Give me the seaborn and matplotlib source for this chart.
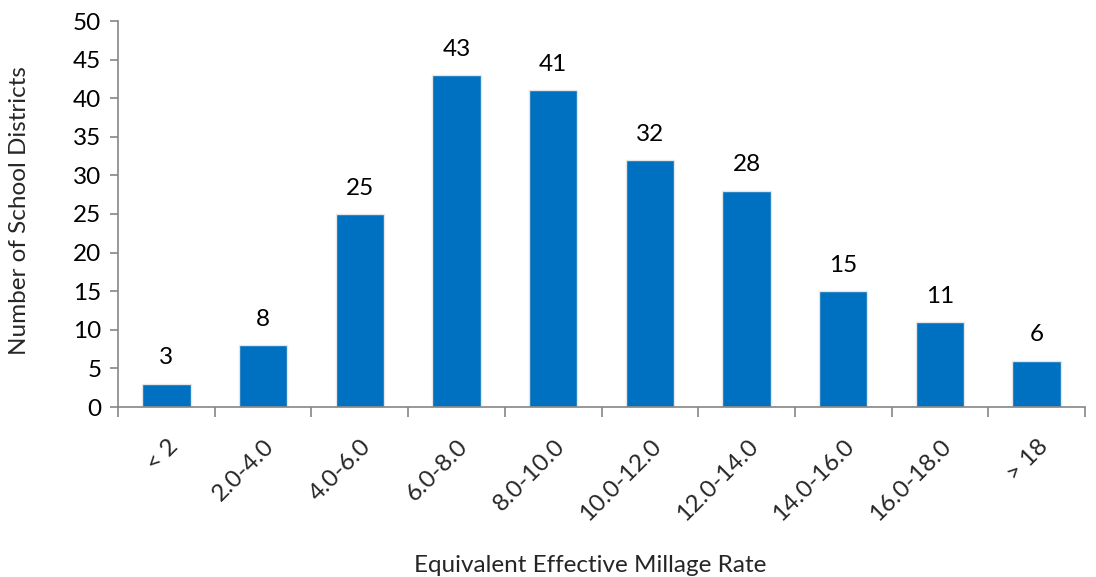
import matplotlib
matplotlib.use("Agg")
import matplotlib.pyplot as plt
import matplotlib.transforms as mtrans
import seaborn as sns
import pandas as pd
import numpy as np

categories = ["< 2", "2.0-4.0", "4.0-6.0", "6.0-8.0", "8.0-10.0", "10.0-12.0",
              "12.0-14.0", "14.0-16.0", "16.0-18.0", "> 18"]
counts = [3, 8, 25, 43, 41, 32, 28, 15, 11, 6]
y_ticks = [0, 5, 10, 15, 20, 25, 30, 35, 40, 45, 50]

sns.set_theme(style="white")
plt.rcParams['font.family'] = ['Lato', 'DejaVu Sans']

FS = 17.5
W, H = 1096, 577
df = pd.DataFrame({"cat": categories, "n": counts})

fig = plt.figure(figsize=(W/100, H/100), dpi=100)
ax = fig.add_axes([118/W, 1-407/H, (1085-118)/W, (407-21)/H])
sns.barplot(data=df, x="cat", y="n", color="#0070C0", saturation=1, width=0.5,
            edgecolor="#e6e6e6", linewidth=1.0, ax=ax)

for i, v in enumerate(counts):
    ax.text(i, v + 2.0, str(v), ha="center", va="bottom", fontsize=FS, color="black")

ax.set_xlim(-0.5, len(categories) - 0.5)
ax.set_ylim(0, 50)
ax.set_yticks(y_ticks)
ax.tick_params(axis="y", labelsize=FS, colors="#868686", labelcolor="black",
               length=6, width=1.2, left=True, direction="out", pad=6)
ax.set_xticks(range(len(categories)))
ax.set_xticklabels(categories, rotation=45, ha="right", va="center",
                   rotation_mode="anchor", fontsize=FS)
ax.tick_params(axis="x", which="major", length=0, pad=26)
offset = mtrans.ScaledTranslation(8/100, 0, fig.dpi_scale_trans)
for lbl in ax.get_xticklabels():
    lbl.set_transform(lbl.get_transform() + offset)
ax.set_xticks(np.arange(-0.5, len(categories)), minor=True)
ax.tick_params(axis="x", which="minor", length=7, width=1.2, color="#868686", bottom=True)

for s in ["top", "right"]:
    ax.spines[s].set_visible(False)
for s in ["left", "bottom"]:
    ax.spines[s].set_color("#868686")
    ax.spines[s].set_linewidth(1.2)

ax.set_xlabel("")
ax.set_ylabel("")
fig.text(590/W, 1-565/H, "Equivalent Effective Millage Rate", fontsize=FS,
         ha="center", va="center")
fig.text(20/W, 1-211/H, "Number of School Districts", fontsize=FS,
         ha="center", va="center", rotation=90)

fig.savefig("out.png", dpi=100)
